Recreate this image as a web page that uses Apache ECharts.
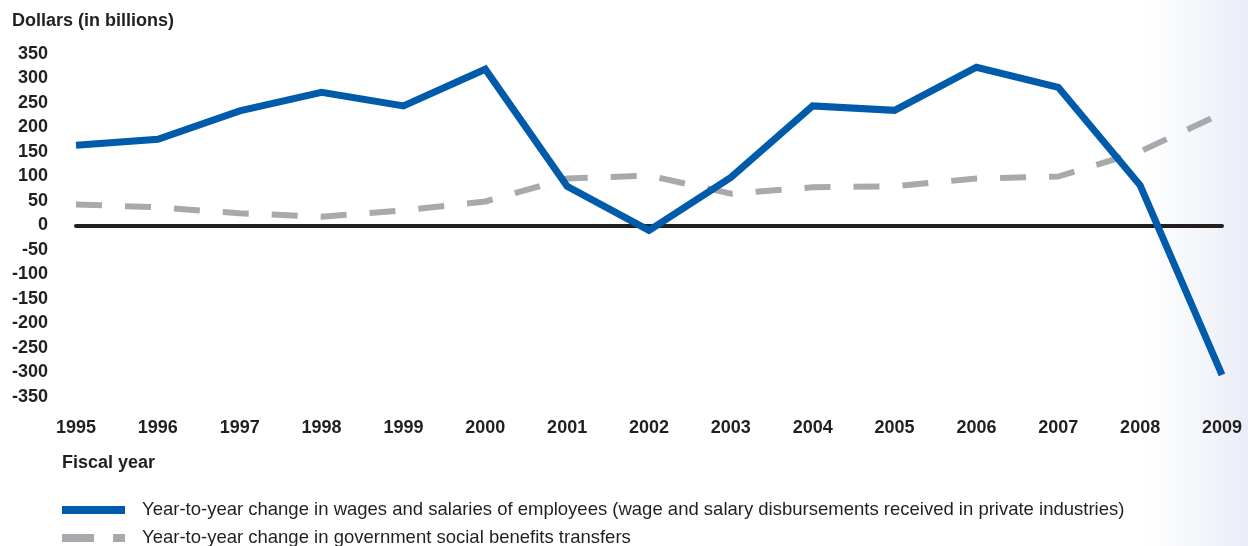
<!DOCTYPE html>
<html>
<head>
<meta charset="utf-8">
<script src="https://cdn.jsdelivr.net/npm/echarts@6/dist/echarts.min.js"></script>
<style>
html,body{margin:0;padding:0;width:1248px;height:546px;overflow:hidden;
background:linear-gradient(to right,#ffffff 0px,#ffffff 1145px,#eaedf7 1248px);}
#c{width:1248px;height:546px;}
</style>
</head>
<body>
<div id="c"></div>
<script>
var years = ['1995','1996','1997','1998','1999','2000','2001','2002','2003','2004','2005','2006','2007','2008','2009'];
var wages = [164, 176, 234, 272, 244, 319, 80, -10, 98, 244, 235, 323, 282, 82, -305];
var benefits = [43, 37, 25, 18, 31, 49, 96, 102, 65, 78, 80, 96, 100, 151, 229];
var wagesName = 'Year-to-year change in wages and salaries of employees (wage and salary disbursements received in private industries)';
var benefitsName = 'Year-to-year change in government social benefits transfers';

var FONT = '"Liberation Sans", Arial, sans-serif';
var legendText = {color: '#231f20', fontFamily: FONT, fontSize: 18.5, lineHeight: 22, padding: [0,0,0,12]};
var chart = echarts.init(document.getElementById('c'), null, {renderer:'canvas'});
chart.setOption({
  backgroundColor: 'transparent',
  animation: false,
  grid: {left: 76, right: 26, top: 54, bottom: 149, containLabel: false},
  xAxis: [{
    type: 'category', data: years, boundaryGap: false,
    axisLine: {show: true, onZero: true, lineStyle: {color: '#231f20', width: 4}},
    axisTick: {show: false}, axisLabel: {show: false}, splitLine: {show: false}
  },{
    type: 'category', data: years, boundaryGap: false, position: 'bottom',
    axisLine: {show: false, onZero: false}, axisTick: {show: false},
    axisLabel: {show: true, margin: 22, color: '#231f20', fontFamily: FONT, fontWeight: 'bold', fontSize: 18},
    splitLine: {show: false}
  }],
  yAxis: {
    type: 'value', min: -350, max: 350, interval: 50,
    axisLine: {show: false}, axisTick: {show: false}, splitLine: {show: false},
    axisLabel: {margin: 28, color: '#231f20', fontFamily: FONT, fontWeight: 'bold', fontSize: 18}
  },
  legend: [{
    orient: 'vertical', left: 62, top: 499, padding: 0, itemWidth: 63, itemHeight: 8,
    selectedMode: false, itemStyle: {borderWidth: 0}, textStyle: legendText,
    data: [{name: wagesName, icon: 'path://M0,0h63v8h-63z'}]
  },{
    orient: 'vertical', left: 62, top: 527, padding: 0, itemWidth: 63, itemHeight: 8,
    selectedMode: false, itemStyle: {borderWidth: 0}, textStyle: legendText,
    data: [{name: benefitsName, icon: 'path://M0,0h32v8h-32z M51,0h12v8h-12z'}]
  }],
  graphic: [
    {type: 'text', left: 12, top: 12, style: {text: 'Dollars (in billions)', fill: '#231f20', font: 'bold 18px ' + FONT}},
    {type: 'text', left: 62, top: 454, style: {text: 'Fiscal year', fill: '#231f20', font: 'bold 18px ' + FONT}}
  ],
  series: [
    {
      name: benefitsName, type: 'line', data: benefits, symbol: 'none', z: 3,
      color: '#a7a9ac',
      lineStyle: {color: '#a7a9ac', width: 6, type: [26, 23], cap: 'butt'}
    },
    {
      name: wagesName, type: 'line', data: wages, symbol: 'none', z: 4,
      color: '#005bab',
      lineStyle: {color: '#005bab', width: 7, cap: 'butt', join: 'miter'}
    }
  ]
});
</script>
</body>
</html>
